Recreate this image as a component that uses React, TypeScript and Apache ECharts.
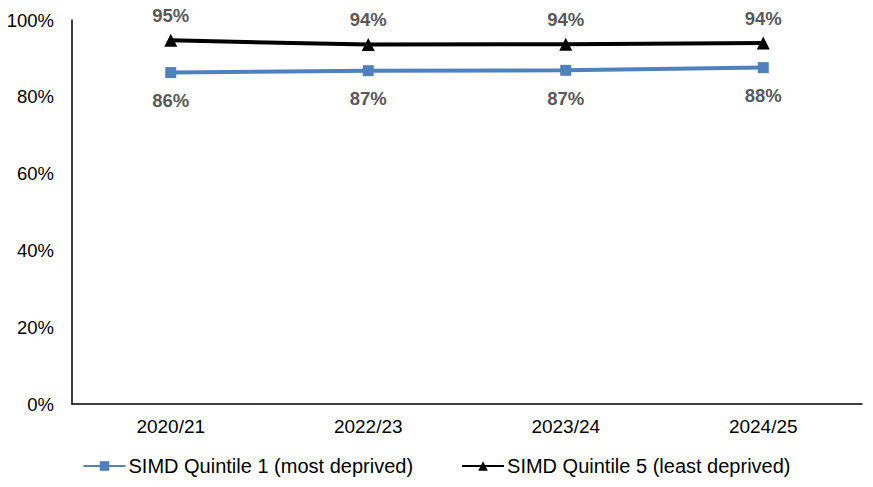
import React, { useEffect, useRef } from "react";
import * as echarts from "echarts";

const categories = ["2020/21", "2022/23", "2023/24", "2024/25"];
const quintile1 = [86.3, 86.8, 86.9, 87.6];
const quintile5 = [94.7, 93.6, 93.7, 94.0];
const yTicks = [0, 20, 40, 60, 80, 100];

const FONT = "'Liberation Sans', Arial, sans-serif";

export default function App() {
  const ref = useRef<HTMLDivElement>(null);
  useEffect(() => {
    if (!ref.current) return;
    const chart = echarts.init(ref.current, null, { renderer: "svg" });
    chart.setOption({
      animation: false,
      textStyle: { fontFamily: FONT },
      grid: { left: 72, right: 11, top: 20, bottom: 83, containLabel: false },
      legend: {
        bottom: 6,
        left: "center",
        itemWidth: 42,
        itemHeight: 12,
        itemGap: 48,
        textStyle: { fontFamily: FONT, fontSize: 20, color: "#000", padding: [0, 0, 0, -2] },
        data: ["SIMD Quintile 1 (most deprived)", "SIMD Quintile 5 (least deprived)"],
      },
      xAxis: {
        type: "category",
        data: categories,
        axisLine: { lineStyle: { color: "#000", width: 1.5 } },
        axisTick: { show: false },
        axisLabel: { fontFamily: FONT, fontSize: 19, color: "#000", margin: 13 },
      },
      yAxis: {
        type: "value",
        min: yTicks[0],
        max: yTicks[yTicks.length - 1],
        interval: 20,
        axisLine: { show: true, lineStyle: { color: "#000", width: 1.5 } },
        axisTick: { show: false },
        splitLine: { show: false },
        axisLabel: {
          fontFamily: FONT,
          fontSize: 18.5,
          color: "#000",
          margin: 18,
          formatter: (v: number) => `${v}%`,
        },
      },
      series: [
        {
          name: "SIMD Quintile 1 (most deprived)",
          type: "line",
          data: quintile1,
          symbol: "rect",
          symbolSize: 11,
          itemStyle: { color: "#4F81BD" },
          lineStyle: { color: "#4F81BD", width: 4 },
          label: {
            show: true,
            position: "bottom",
            distance: 13,
            fontFamily: FONT,
            fontSize: 18.5,
            fontWeight: "bold",
            color: "#595959",
            formatter: (p: any) => `${Math.round(p.value)}%`,
          },
        },
        {
          name: "SIMD Quintile 5 (least deprived)",
          type: "line",
          data: quintile5,
          symbol: "triangle",
          symbolSize: 13,
          itemStyle: { color: "#000" },
          lineStyle: { color: "#000", width: 4 },
          label: {
            show: true,
            position: "top",
            distance: 9,
            fontFamily: FONT,
            fontSize: 18.5,
            fontWeight: "bold",
            color: "#595959",
            formatter: (p: any) => `${Math.round(p.value)}%`,
          },
        },
      ],
    });
    return () => chart.dispose();
  }, []);
  return <div ref={ref} style={{ width: 873, height: 487, position: "absolute", left: 0, top: 0 }} />;
}
